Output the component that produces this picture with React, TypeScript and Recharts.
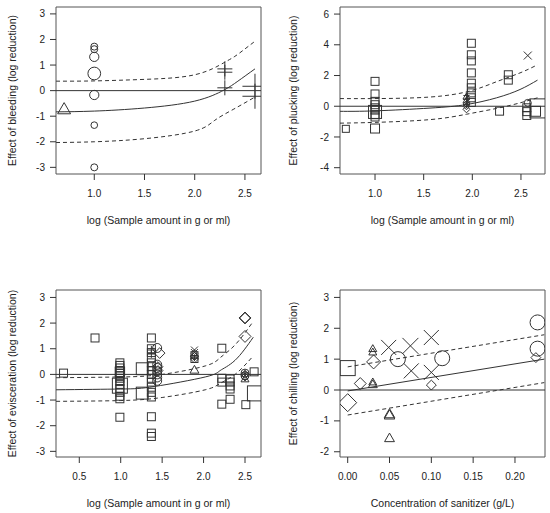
import type { ReactNode } from "react";
import { ComposedChart, Line, ReferenceArea, ReferenceLine, Scatter, XAxis, YAxis } from "recharts";

const FONT = '"Liberation Sans", Arial, sans-serif';
const INK = "#333";
const TEXT = "#222";

type Pt = { x: number; y: number; w?: number };

// ---- bleeding (top left)
const bleedTri: Pt[] = [{ x: 0.7, y: -0.76, w: 3.4 }];
const bleedCirc: Pt[] = [
  { x: 1.0, y: 1.72, w: 1 },
  { x: 1.0, y: 1.62, w: 1 },
  { x: 1.0, y: 1.32, w: 1.75 },
  { x: 1.0, y: 0.67, w: 3.3 },
  { x: 1.0, y: -0.17, w: 1.75 },
  { x: 1.0, y: -1.35, w: 0.9 },
  { x: 1.0, y: -3.0, w: 1 },
];
const bleedPlus: Pt[] = [
  { x: 2.3, y: 0.85, w: 4.6 },
  { x: 2.3, y: 0.72, w: 4.6 },
  { x: 2.3, y: 0.11, w: 4.6 },
  { x: 2.6, y: 0.17, w: 12.8 },
  { x: 2.6, y: -0.22, w: 12.8 },
];
const bleedFit: Pt[] = [
  { x: 0.62, y: -0.83 }, { x: 1.0, y: -0.8 }, { x: 1.5, y: -0.68 }, { x: 2.0, y: -0.41 },
  { x: 2.29, y: 0.02 }, { x: 2.43, y: 0.37 }, { x: 2.6, y: 0.85 },
];
const bleedUpper: Pt[] = [
  { x: 0.62, y: 0.37 }, { x: 1.0, y: 0.38 }, { x: 1.5, y: 0.44 }, { x: 2.0, y: 0.62 },
  { x: 2.29, y: 1.09 }, { x: 2.4, y: 1.34 }, { x: 2.5, y: 1.63 }, { x: 2.6, y: 1.93 },
];
const bleedLower: Pt[] = [
  { x: 0.62, y: -2.03 }, { x: 1.0, y: -2.0 }, { x: 1.5, y: -1.88 }, { x: 2.0, y: -1.58 },
  { x: 2.2, y: -1.16 }, { x: 2.39, y: -0.72 }, { x: 2.6, y: -0.25 },
];

// ---- plucking (top right)
const pluckSq: Pt[] = [
  { x: 0.7, y: -1.47, w: 1 },
  { x: 1.0, y: 1.62, w: 1.3 }, { x: 1.0, y: 0.8, w: 1.3 }, { x: 1.0, y: 0.32, w: 1.3 },
  { x: 1.0, y: 0.1, w: 1.3 }, { x: 1.0, y: -0.1, w: 1.3 }, { x: 1.0, y: -0.25, w: 1.3 },
  { x: 1.0, y: -0.37, w: 3.45 }, { x: 1.0, y: -0.55, w: 1.3 }, { x: 1.0, y: -0.7, w: 1.3 },
  { x: 1.0, y: -1.45, w: 1.65 },
  { x: 1.99, y: 4.1, w: 1.3 }, { x: 1.99, y: 3.35, w: 1.3 }, { x: 1.99, y: 2.95, w: 1.3 },
  { x: 1.99, y: 2.17, w: 1.3 }, { x: 1.99, y: 1.5, w: 1.3 }, { x: 1.99, y: 1.2, w: 1.3 },
  { x: 1.99, y: 0.87, w: 1.3 }, { x: 1.99, y: 0.55, w: 1.3 }, { x: 1.99, y: 0.25, w: 1.3 },
  { x: 2.28, y: -0.32, w: 1.3 },
  { x: 2.37, y: 2.05, w: 1.3 }, { x: 2.37, y: 1.7, w: 1.3 },
  { x: 2.56, y: -0.1, w: 1.3 }, { x: 2.56, y: -0.35, w: 1.3 }, { x: 2.56, y: -0.6, w: 1.3 },
  { x: 2.69, y: -0.14, w: 7.4 }, { x: 2.65, y: -0.33, w: 2 },
];
const pluckCirc: Pt[] = [{ x: 2.57, y: 0.22, w: 1 }];
const pluckX: Pt[] = [{ x: 2.57, y: 3.3, w: 1.3 }];
const pluckDia: Pt[] = [
  { x: 1.94, y: -0.2, w: 1 }, { x: 1.94, y: 0.0, w: 1 }, { x: 1.94, y: 0.15, w: 1 },
];
const pluckTri: Pt[] = [{ x: 1.94, y: 0.35, w: 1 }, { x: 1.94, y: 0.6, w: 1 }];
const pluckPlus: Pt[] = [
  { x: 1.94, y: 0.1, w: 1 }, { x: 1.94, y: 0.45, w: 1 }, { x: 1.94, y: 0.7, w: 0.8 },
];
const pluckFit: Pt[] = [
  { x: 0.64, y: -0.33 }, { x: 1.0, y: -0.3 }, { x: 1.565, y: -0.12 }, { x: 1.94, y: 0.11 },
  { x: 2.25, y: 0.55 }, { x: 2.49, y: 1.09 }, { x: 2.67, y: 1.7 },
];
const pluckUpper: Pt[] = [
  { x: 0.64, y: 0.5 }, { x: 1.0, y: 0.5 }, { x: 1.565, y: 0.6 }, { x: 1.98, y: 1.0 },
  { x: 2.25, y: 1.6 }, { x: 2.49, y: 2.17 }, { x: 2.67, y: 2.7 },
];
const pluckLower: Pt[] = [
  { x: 0.64, y: -1.1 }, { x: 1.0, y: -1.05 }, { x: 1.565, y: -0.87 }, { x: 1.94, y: -0.52 },
  { x: 2.25, y: -0.14 }, { x: 2.49, y: 0.22 }, { x: 2.67, y: 0.55 },
];

// ---- evisceration (bottom left)
const eviscSq: Pt[] = [
  { x: 0.31, y: 0.05, w: 1.3 }, { x: 0.69, y: 1.42, w: 1.3 },
  { x: 0.99, y: 0.45, w: 1.3 }, { x: 0.99, y: 0.35, w: 1.3 }, { x: 0.99, y: 0.25, w: 1.3 },
  { x: 0.99, y: 0.15, w: 1.3 }, { x: 0.99, y: 0.05, w: 1.3 }, { x: 0.99, y: -0.05, w: 1.3 },
  { x: 0.99, y: -0.15, w: 1.3 }, { x: 0.99, y: -0.28, w: 1.3 }, { x: 0.99, y: -0.4, w: 1.3 },
  { x: 0.99, y: -0.55, w: 1.3 }, { x: 0.99, y: -0.7, w: 1.3 }, { x: 0.99, y: -0.85, w: 1.3 },
  { x: 0.99, y: -0.95, w: 1.3 }, { x: 0.99, y: 0.1, w: 1.8 }, { x: 0.99, y: -0.44, w: 4.6 },
  { x: 0.99, y: -1.67, w: 1.3 },
  { x: 1.26, y: 0.22, w: 2.9 }, { x: 1.26, y: -0.73, w: 2.9 },
  { x: 1.37, y: 1.42, w: 1.3 }, { x: 1.37, y: 1.0, w: 1.3 }, { x: 1.37, y: 0.85, w: 1.3 },
  { x: 1.37, y: 0.65, w: 1.3 }, { x: 1.37, y: 0.45, w: 1.3 }, { x: 1.37, y: 0.3, w: 1.3 },
  { x: 1.37, y: 0.15, w: 1.3 }, { x: 1.37, y: 0.0, w: 1.3 }, { x: 1.37, y: -0.15, w: 1.3 },
  { x: 1.37, y: -0.3, w: 1.3 }, { x: 1.37, y: -0.5, w: 1.3 }, { x: 1.37, y: -0.7, w: 1.3 },
  { x: 1.37, y: -0.88, w: 1.3 }, { x: 1.37, y: -1.65, w: 1.3 }, { x: 1.37, y: -2.29, w: 1.3 },
  { x: 1.37, y: -2.42, w: 1.3 },
  { x: 1.89, y: 0.6, w: 1 }, { x: 1.89, y: 0.75, w: 1 },
  { x: 2.22, y: 1.02, w: 1.3 }, { x: 2.22, y: -0.15, w: 1.3 }, { x: 2.22, y: -0.3, w: 1.3 },
  { x: 2.22, y: -1.16, w: 1.3 },
  { x: 2.32, y: -0.18, w: 1.3 }, { x: 2.32, y: -0.3, w: 1.3 }, { x: 2.32, y: -0.45, w: 1.3 },
  { x: 2.32, y: -0.57, w: 1.3 }, { x: 2.32, y: -0.97, w: 1.3 },
  { x: 2.51, y: -1.18, w: 1.3 }, { x: 2.61, y: 0.1, w: 1.3 }, { x: 2.62, y: -0.74, w: 4.6 },
];
const eviscCirc: Pt[] = [
  { x: 1.44, y: 1.03, w: 1.65 }, { x: 1.44, y: 0.38, w: 1.65 }, { x: 1.44, y: 0.25, w: 1.65 },
  { x: 1.44, y: 0.12, w: 1.65 }, { x: 1.44, y: 0.0, w: 1.65 }, { x: 1.44, y: -0.12, w: 1.65 },
  { x: 1.44, y: -0.25, w: 1.65 },
  { x: 2.5, y: 0.05, w: 1.3 }, { x: 2.5, y: -0.05, w: 1.3 },
];
const eviscDia: Pt[] = [
  { x: 1.47, y: 0.83, w: 2.3 }, { x: 1.45, y: 0.3, w: 2 }, { x: 1.45, y: 0.15, w: 2 },
  { x: 2.5, y: 2.2, w: 2.9 }, { x: 2.5, y: 2.2, w: 2.3 }, { x: 2.5, y: 1.48, w: 2.9 },
  { x: 2.5, y: 0.0, w: 1.3 }, { x: 2.5, y: -0.1, w: 1.3 },
  { x: 1.89, y: 0.7, w: 1.3 }, { x: 1.89, y: 0.6, w: 1.3 },
];
const eviscTri: Pt[] = [
  { x: 1.89, y: 0.15, w: 1.65 }, { x: 2.5, y: -0.2, w: 1.3 }, { x: 1.89, y: 0.8, w: 1 },
];
const eviscX: Pt[] = [{ x: 1.89, y: 0.95, w: 1 }, { x: 1.89, y: 0.85, w: 1 }];
const eviscPlus: Pt[] = [
  { x: 1.37, y: 0.95, w: 1.3 }, { x: 1.37, y: 0.8, w: 1.3 }, { x: 1.89, y: 0.65, w: 1 },
  { x: 2.5, y: 0.05, w: 1 },
];
const eviscFit: Pt[] = [
  { x: 0.22, y: -0.6 }, { x: 1.0, y: -0.57 }, { x: 1.41, y: -0.47 }, { x: 2.02, y: -0.1 },
  { x: 2.2, y: 0.15 }, { x: 2.38, y: 0.55 }, { x: 2.6, y: 1.45 },
];
const eviscUpper: Pt[] = [
  { x: 0.22, y: -0.13 }, { x: 1.0, y: -0.1 }, { x: 1.5, y: 0.0 }, { x: 2.02, y: 0.33 },
  { x: 2.2, y: 0.65 }, { x: 2.38, y: 1.15 }, { x: 2.6, y: 2.07 },
];
const eviscLower: Pt[] = [
  { x: 0.22, y: -1.05 }, { x: 1.0, y: -1.02 }, { x: 1.5, y: -0.9 }, { x: 2.02, y: -0.6 },
  { x: 2.2, y: -0.35 }, { x: 2.38, y: 0.0 }, { x: 2.6, y: 0.72 },
];

// ---- chilling (bottom right)
const chillSq: Pt[] = [{ x: 0.0, y: 0.71, w: 4.6 }];
const chillDia: Pt[] = [
  { x: 0.0, y: -0.41, w: 6.6 }, { x: 0.015, y: 0.21, w: 2.9 }, { x: 0.031, y: 0.91, w: 4 },
  { x: 0.1, y: 0.16, w: 2 }, { x: 0.225, y: 1.05, w: 2 },
];
const chillTri: Pt[] = [
  { x: 0.03, y: 1.32, w: 1.3 }, { x: 0.03, y: 1.21, w: 1.3 }, { x: 0.03, y: 0.24, w: 1.3 },
  { x: 0.03, y: 0.16, w: 1.65 }, { x: 0.05, y: -0.84, w: 2.3 }, { x: 0.05, y: -0.8, w: 2.3 },
  { x: 0.05, y: -1.58, w: 2 },
];
const chillX: Pt[] = [
  { x: 0.049, y: 1.38, w: 4.6 }, { x: 0.075, y: 1.43, w: 5.2 }, { x: 0.1, y: 1.7, w: 4.6 },
  { x: 0.076, y: 0.62, w: 4.6 }, { x: 0.1, y: 0.57, w: 4.6 },
];
const chillCirc: Pt[] = [
  { x: 0.06, y: 1.0, w: 4.6 }, { x: 0.113, y: 1.03, w: 4.6 }, { x: 0.227, y: 2.19, w: 4.6 },
  { x: 0.227, y: 1.34, w: 4.6 },
];
const chillFit: Pt[] = [{ x: 0.0, y: -0.03 }, { x: 0.235, y: 1.0 }];
const chillUpper: Pt[] = [{ x: 0.0, y: 0.75 }, { x: 0.235, y: 1.79 }];
const chillLower: Pt[] = [{ x: 0.0, y: -0.81 }, { x: 0.235, y: 0.24 }];

const logTicks = [1.0, 1.5, 2.0, 2.5];
const eviscXTicks = [0.5, 1.0, 1.5, 2.0, 2.5];
const chillXTicks = [0.0, 0.05, 0.1, 0.15, 0.2];
const bleedYTicks = [-3, -2, -1, 0, 1, 2, 3];
const pluckYTicks = [-4, -2, 0, 2, 4, 6];
const chillYTicks = [-2, -1, 0, 1, 2, 3];

type Kind = "circle" | "square" | "triangle" | "diamond" | "plus" | "cross";

function symbol(kind: Kind) {
  return (p: any) => {
    const { cx, cy } = p;
    if (cx == null || cy == null) return <g />;
    const w = (p.payload ?? p).w ?? 1;
    const d = 7 * Math.sqrt(w);
    const r = d / 2;
    const common = { fill: "none", stroke: INK, strokeWidth: 1 };
    switch (kind) {
      case "circle":
        return <circle cx={cx} cy={cy} r={r} {...common} />;
      case "square":
        return <rect x={cx - r} y={cy - r} width={d} height={d} {...common} />;
      case "triangle": {
        const h = d * 0.866;
        return <polygon points={`${cx},${cy - (h * 2) / 3} ${cx + r},${cy + h / 3} ${cx - r},${cy + h / 3}`} {...common} />;
      }
      case "diamond":
        return <polygon points={`${cx},${cy - r} ${cx + r},${cy} ${cx},${cy + r} ${cx - r},${cy}`} {...common} />;
      case "plus":
        return <path d={`M${cx - r},${cy}H${cx + r}M${cx},${cy - r}V${cy + r}`} {...common} />;
      default:
        return <path d={`M${cx - r},${cy - r}L${cx + r},${cy + r}M${cx + r},${cy - r}L${cx - r},${cy + r}`} {...common} />;
    }
  };
}

function pts(data: Pt[], kind: Kind, key: string) {
  return <Scatter key={key} data={data} dataKey="y" shape={symbol(kind)} isAnimationActive={false} legendType="none" />;
}

function curve(data: Pt[], key: string, dashed = false, type: "natural" | "linear" = "natural") {
  return (
    <Line
      key={key}
      data={data}
      dataKey="y"
      type={type}
      stroke={INK}
      strokeWidth={1}
      strokeDasharray={dashed ? "4 3" : undefined}
      dot={false}
      activeDot={false}
      isAnimationActive={false}
      legendType="none"
    />
  );
}

function Panel({
  left,
  top,
  width,
  xDomain,
  yDomain,
  xTicks,
  yTicks,
  digits,
  xTitle,
  yTitle,
  yTitleX,
  children,
}: {
  left: number;
  top: number;
  width: number;
  xDomain: [number, number];
  yDomain: [number, number];
  xTicks: number[];
  yTicks: number[];
  digits: number;
  xTitle: string;
  yTitle: string;
  yTitleX: number;
  children: ReactNode;
}) {
  return (
    <div style={{ position: "absolute", left, top }}>
      <ComposedChart width={width} height={230} margin={{ top: 7, right: width - 261, bottom: 0, left: 0 }}>
        <XAxis
          dataKey="x"
          type="number"
          domain={xDomain}
          allowDataOverflow
          ticks={xTicks}
          tickFormatter={(v: number) => v.toFixed(digits)}
          axisLine={false}
          tickLine={{ stroke: INK }}
          tickSize={6}
          tickMargin={10}
          height={56}
          tick={{ fill: TEXT, fontSize: 10, fontFamily: FONT }}
          label={{ value: xTitle, position: "insideBottom", offset: 6, fill: TEXT, fontSize: 10.5, fontFamily: FONT }}
        />
        <YAxis
          type="number"
          domain={yDomain}
          allowDataOverflow
          ticks={yTicks}
          axisLine={false}
          tickLine={{ stroke: INK }}
          tickSize={6}
          tickMargin={5}
          width={56}
          tick={{ fill: TEXT, fontSize: 10, fontFamily: FONT }}
          label={{
            value: yTitle,
            angle: -90,
            position: "insideLeft",
            offset: yTitleX,
            fill: TEXT,
            fontSize: 10.5,
            fontFamily: FONT,
            style: { textAnchor: "middle" },
          }}
        />
        <ReferenceLine y={0} stroke={INK} strokeWidth={1} />
        {children}
        <ReferenceArea
          x1={xDomain[0]}
          x2={xDomain[1]}
          y1={yDomain[0]}
          y2={yDomain[1]}
          fill="none"
          stroke="#555"
          strokeWidth={1}
          ifOverflow="visible"
        />
      </ComposedChart>
    </div>
  );
}

export default function App() {
  return (
    <div style={{ position: "absolute", left: 0, top: 0, width: 550, height: 513, background: "#fff" }}>
      <Panel
        left={0}
        top={0}
        width={275}
        xDomain={[0.619, 2.66]}
        yDomain={[-3.26, 3.27]}
        xTicks={logTicks}
        yTicks={bleedYTicks}
        digits={1}
        xTitle="log (Sample amount in g or ml)"
        yTitle="Effect of bleeding (log reduction)"
        yTitleX={12}
      >
        {curve(bleedFit, "fit")}
        {curve(bleedUpper, "up", true)}
        {curve(bleedLower, "lo", true)}
        {pts(bleedTri, "triangle", "tri")}
        {pts(bleedCirc, "circle", "circ")}
        {pts(bleedPlus, "plus", "plus")}
      </Panel>
      <Panel
        left={284}
        top={0}
        width={266}
        xDomain={[0.64, 2.747]}
        yDomain={[-4.41, 6.46]}
        xTicks={logTicks}
        yTicks={pluckYTicks}
        digits={1}
        xTitle="log (Sample amount in g or ml)"
        yTitle="Effect of plucking (log reduction)"
        yTitleX={9.5}
      >
        {curve(pluckFit, "fit")}
        {curve(pluckUpper, "up", true)}
        {curve(pluckLower, "lo", true)}
        {pts(pluckSq, "square", "sq")}
        {pts(pluckCirc, "circle", "circ")}
        {pts(pluckX, "cross", "x")}
        {pts(pluckDia, "diamond", "dia")}
        {pts(pluckTri, "triangle", "tri")}
        {pts(pluckPlus, "plus", "plus")}
      </Panel>
      <Panel
        left={0}
        top={283}
        width={275}
        xDomain={[0.219, 2.693]}
        yDomain={[-3.22, 3.29]}
        xTicks={eviscXTicks}
        yTicks={bleedYTicks}
        digits={1}
        xTitle="log (Sample amount in g or ml)"
        yTitle="Effect of evisceration (log reduction)"
        yTitleX={12}
      >
        {curve(eviscFit, "fit")}
        {curve(eviscUpper, "up", true)}
        {curve(eviscLower, "lo", true)}
        {pts(eviscSq, "square", "sq")}
        {pts(eviscCirc, "circle", "circ")}
        {pts(eviscDia, "diamond", "dia")}
        {pts(eviscTri, "triangle", "tri")}
        {pts(eviscX, "cross", "x")}
        {pts(eviscPlus, "plus", "plus")}
      </Panel>
      <Panel
        left={284}
        top={283}
        width={266}
        xDomain={[-0.0092, 0.2359]}
        yDomain={[-2.17, 3.24]}
        xTicks={chillXTicks}
        yTicks={chillYTicks}
        digits={2}
        xTitle="Concentration of sanitizer (g/L)"
        yTitle="Effect of chilling (log reduction)"
        yTitleX={9.5}
      >
        {curve(chillFit, "fit", false, "linear")}
        {curve(chillUpper, "up", true, "linear")}
        {curve(chillLower, "lo", true, "linear")}
        {pts(chillSq, "square", "sq")}
        {pts(chillDia, "diamond", "dia")}
        {pts(chillTri, "triangle", "tri")}
        {pts(chillX, "cross", "x")}
        {pts(chillCirc, "circle", "circ")}
      </Panel>
    </div>
  );
}
